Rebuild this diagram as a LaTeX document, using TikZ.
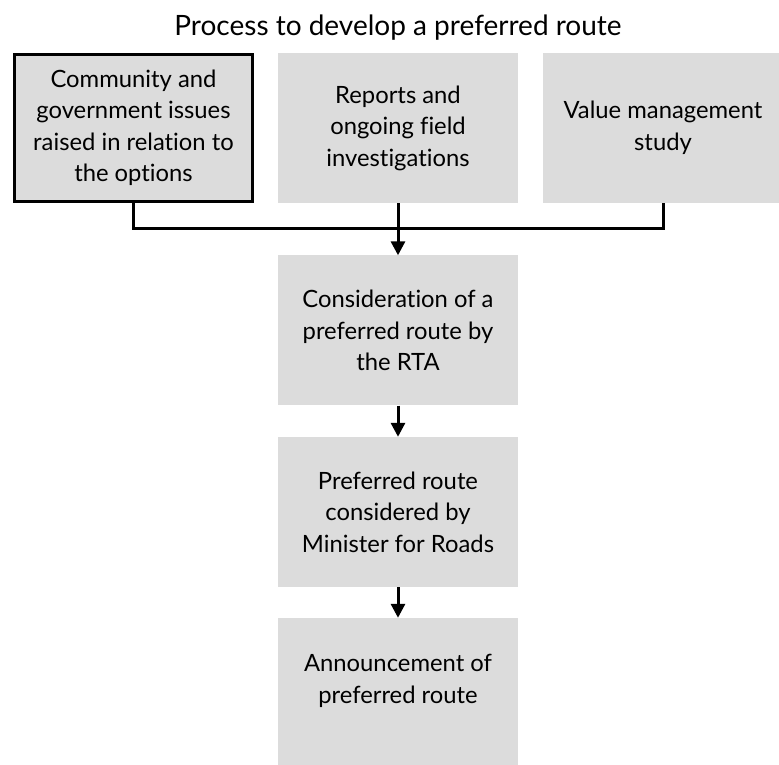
\documentclass[tikz,border=0pt]{standalone}
\usepackage{fontspec}
\setmainfont{Lato}[Ligatures=NoCommon]
\usetikzlibrary{arrows.meta}
\definecolor{boxgray}{RGB}{220,220,220}
\tikzset{
  boxfont/.style={font=\fontsize{23.8}{31.5}\selectfont},
  flowbox/.style={fill=boxgray, draw=none, minimum width=240pt, minimum height=150pt,
    inner sep=0pt, align=center, text=black, boxfont},
  framedbox/.style={flowbox, draw=black, line width=3pt, minimum width=238pt, minimum height=147pt},
  conn/.style={line width=3pt, draw=black},
  arr/.style={conn, -{Triangle[length=14pt,width=14pt]}}
}
\begin{document}
\begin{tikzpicture}[x=1pt,y=1pt]
\path[use as bounding box] (0,0) rectangle (779,764);
\clip (0,0) rectangle (779,764);
\node[font=\fontsize{28}{32}\selectfont] (title) at (398,736) {Process to develop a preferred route};
\node[framedbox] (b1) at (133.5,636) {Community and\\government issues\\raised in relation to\\the options};
\node[flowbox] (b2) at (398,636) {Reports and\\ongoing field\\investigations};
\node[flowbox] (b3) at (663,636) {Value management\\study};
\node[flowbox] (b4) at (398,433.5) {Consideration of a\\preferred route by\\the RTA};
\node[flowbox] (b5) at (398,252) {Preferred route\\considered by\\Minister for Roads};
\node[flowbox] (b6) at (398,71) {};
\node[align=center, boxfont, inner sep=0pt] (t6) at (398,83) {Announcement of\\preferred route};
\coordinate (j) at (398,535);
\draw[conn] (b1.south) |- (j) -| (b3.south);
\draw[arr] (b2.south) -- (b4.north);
\draw[arr] (b4.south) -- (b5.north);
\draw[arr] (b5.south) -- (b6.north);
\end{tikzpicture}
\end{document}
